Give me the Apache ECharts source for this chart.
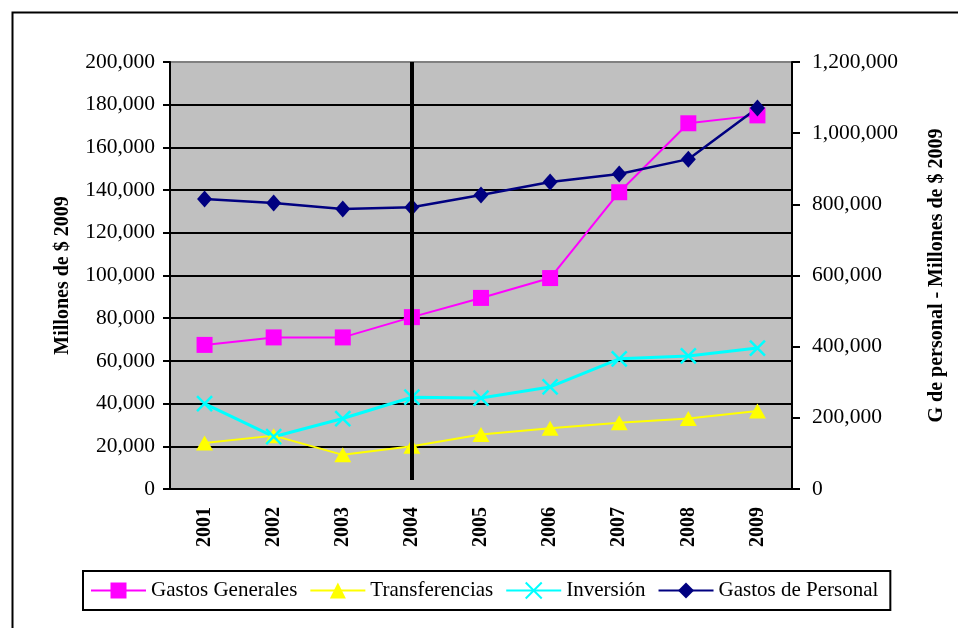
<!DOCTYPE html>
<html>
<head>
<meta charset="utf-8">
<script src="https://cdn.jsdelivr.net/npm/echarts@6/dist/echarts.min.js"></script>
<style>
html,body{margin:0;padding:0;background:#fff;}
#chart{width:958px;height:628px;}
</style>
</head>
<body>
<div id="chart"></div>
<script>
const categories = ['2001','2002','2003','2004','2005','2006','2007','2008','2009'];
const gastosGenerales = [67500, 71000, 71000, 80500, 89500, 98800, 139000, 171300, 175000];
const transferencias = [21500, 25000, 16000, 20000, 25500, 28500, 31000, 33000, 36500];
const inversion = [40000, 24500, 33000, 43000, 42600, 47800, 61000, 62300, 66000];
const gastosPersonal = [815000, 804000, 787000, 792000, 826000, 863000, 885000, 927000, 1071000];
const leftTicks = { min: 0, max: 200000, interval: 20000 };
const rightTicks = { min: 0, max: 1200000, interval: 200000 };
const markYear = '2004';
const markTop = 1200000;
const markBottom = 25000;

const FONT = 'Liberation Serif';
const fmt = v => v.toLocaleString('en-US');

const chart = echarts.init(document.getElementById('chart'));
const splitColors = [];
for (let i = 0; i < 10; i++) splitColors.push('#000');
splitColors.push('#808080');

chart.setOption({
  animation: false,
  backgroundColor: '#fff',
  textStyle: { fontFamily: FONT },
  graphic: [{
    type: 'rect', left: 10, top: 10,
    shape: { width: 960, height: 640 },
    style: { fill: 'none', stroke: '#000', lineWidth: 2 }, silent: true, z: -1
  }],
  grid: {
    left: 170, right: 166, top: 62, bottom: 139,
    show: true, backgroundColor: '#C0C0C0', borderColor: '#808080', borderWidth: 1
  },
  legend: {
    left: 83, top: 571,
    padding: [9, 12, 9, 7],
    itemGap: 12,
    itemWidth: 55, itemHeight: 20,
    borderColor: '#000', borderWidth: 2, backgroundColor: '#fff',
    textStyle: { fontFamily: FONT, fontSize: 21, color: '#000' },
    data: ['Gastos Generales', 'Transferencias', 'Inversión', 'Gastos de Personal']
  },
  xAxis: {
    type: 'category',
    data: categories,
    boundaryGap: true,
    axisLine: { lineStyle: { color: '#000', width: 2 } },
    axisTick: { length: 7, lineStyle: { color: '#000', width: 2 } },
    axisLabel: { rotate: 90, margin: 18, fontFamily: FONT, fontSize: 20, fontWeight: 'bold', color: '#000' }
  },
  yAxis: [{
    type: 'value',
    min: leftTicks.min, max: leftTicks.max, interval: leftTicks.interval,
    name: 'Millones de $ 2009',
    nameLocation: 'middle', nameGap: 97, nameRotate: 90,
    nameTextStyle: { fontFamily: FONT, fontSize: 20, fontWeight: 'bold', color: '#000' },
    axisLine: { show: true, lineStyle: { color: '#000', width: 2 } },
    axisTick: { show: true, length: 7, lineStyle: { color: '#000', width: 2 } },
    axisLabel: { margin: 15, fontFamily: FONT, fontSize: 21.5, color: '#000', formatter: fmt },
    splitLine: { show: true, lineStyle: { color: splitColors, width: 2 } }
  }, {
    type: 'value',
    position: 'right',
    min: rightTicks.min, max: rightTicks.max, interval: rightTicks.interval,
    name: 'G de personal - Millones de $ 2009',
    nameLocation: 'middle', nameGap: 135, nameRotate: 90,
    nameTextStyle: { fontFamily: FONT, fontSize: 20, fontWeight: 'bold', color: '#000' },
    axisLine: { show: true, lineStyle: { color: '#000', width: 2 } },
    axisTick: { show: true, length: 8, lineStyle: { color: '#000', width: 2 } },
    axisLabel: { margin: 20, fontFamily: FONT, fontSize: 21.5, color: '#000', formatter: fmt },
    splitLine: { show: false }
  }],
  series: [{
    name: 'Gastos Generales', type: 'line', data: gastosGenerales,
    symbol: 'rect', symbolSize: 16,
    itemStyle: { color: '#FF00FF' }, lineStyle: { color: '#FF00FF', width: 2 }
  }, {
    name: 'Transferencias', type: 'line', data: transferencias,
    symbol: 'triangle', symbolSize: [17, 15],
    itemStyle: { color: '#FFFF00' }, lineStyle: { color: '#FFFF00', width: 2 }
  }, {
    name: 'Inversión', type: 'line', data: inversion,
    symbol: 'path://M0,0L10,10M10,0L0,10', symbolSize: 15,
    itemStyle: { color: '#00FFFF', borderColor: '#00FFFF', borderWidth: 2.5 },
    lineStyle: { color: '#00FFFF', width: 3 }
  }, {
    name: 'Gastos de Personal', type: 'line', data: gastosPersonal, yAxisIndex: 1,
    symbol: 'diamond', symbolSize: [15, 17],
    itemStyle: { color: '#000080' }, lineStyle: { color: '#000080', width: 2.5 },
    markLine: {
      silent: true, symbol: ['none', 'none'],
      label: { show: false },
      lineStyle: { color: '#000', width: 4, type: 'solid' },
      data: [[{ coord: [markYear, markTop] }, { coord: [markYear, markBottom] }]]
    }
  }]
});
</script>
</body>
</html>
